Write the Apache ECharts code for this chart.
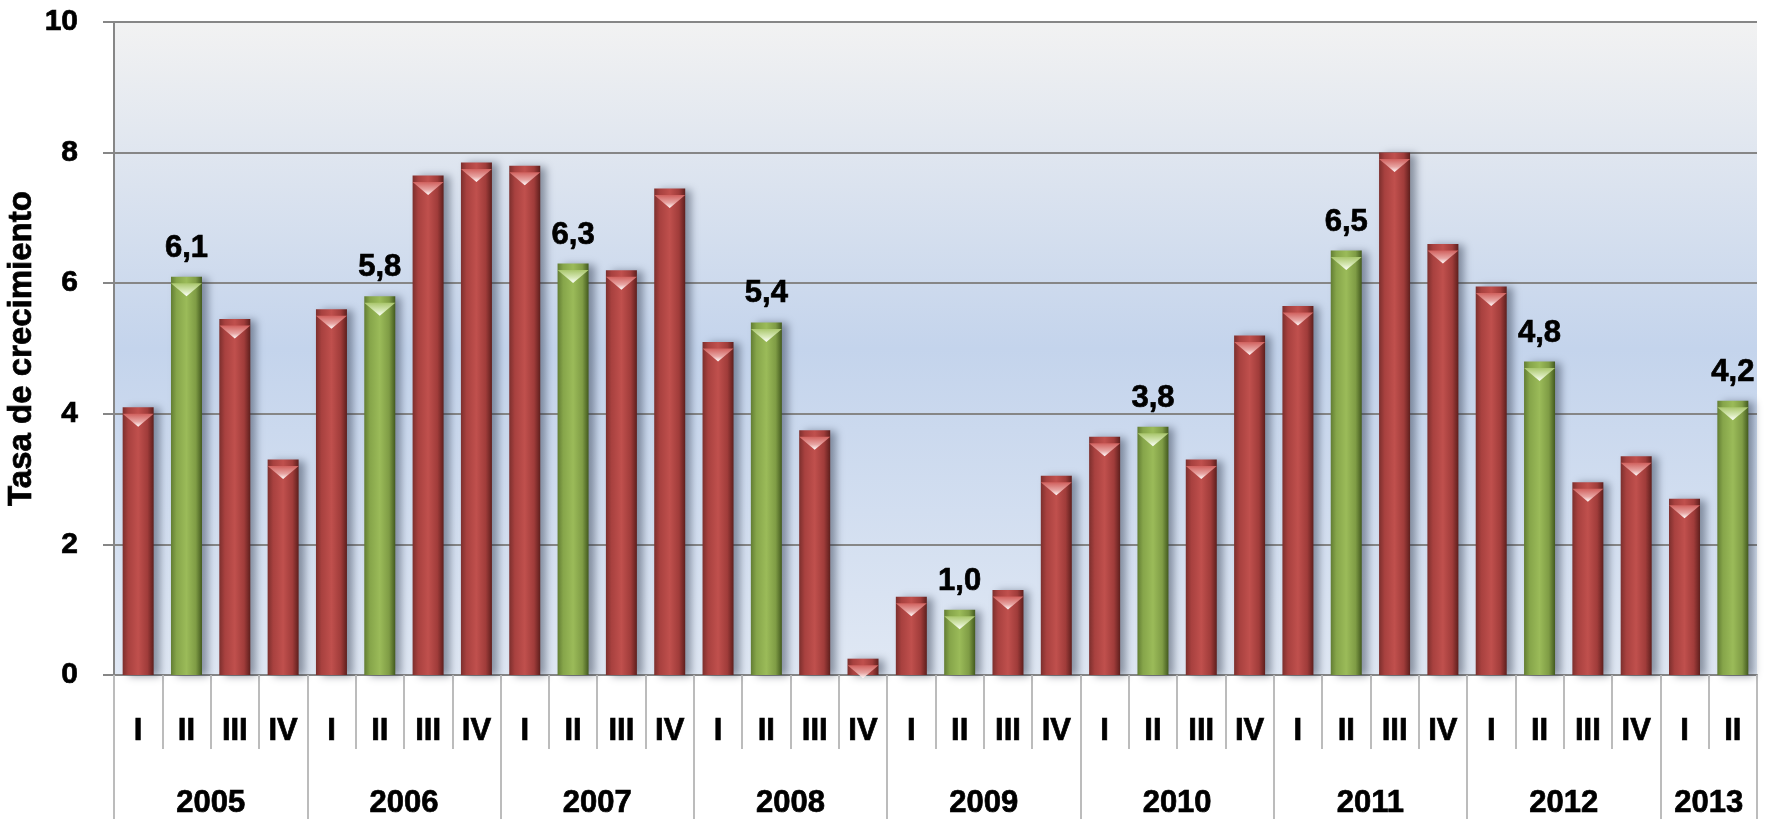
<!DOCTYPE html>
<html>
<head>
<meta charset="utf-8">
<script src="https://cdn.jsdelivr.net/npm/echarts@6/dist/echarts.min.js"></script>
<style>
html,body{margin:0;padding:0;background:#fff;}
#chart{width:1769px;height:819px;}
</style>
</head>
<body>
<div id="chart"></div>
<script>
// ---- data ----
var years = ['2005','2006','2007','2008','2009','2010','2011','2012','2013'];
var quarterNames = ['I','II','III','IV'];
var quartersPerYear = [4,4,4,4,4,4,4,4,2];
var v2005 = [4.1, 6.1, 5.45, 3.3];
var v2006 = [5.6, 5.8, 7.65, 7.85];
var v2007 = [7.8, 6.3, 6.2, 7.45];
var v2008 = [5.1, 5.4, 3.75, 0.25];
var v2009 = [1.2, 1.0, 1.3, 3.05];
var v2010 = [3.65, 3.8, 3.3, 5.2];
var v2011 = [5.65, 6.5, 8.0, 6.6];
var v2012 = [5.95, 4.8, 2.95, 3.35];
var v2013 = [2.7, 4.2];
var yTicks = [0, 2, 4, 6, 8, 10];
var yTitle = 'Tasa de crecimiento';

// ---- build ----
var yearValues = [v2005, v2006, v2007, v2008, v2009, v2010, v2011, v2012, v2013];
var quarterCats = [];
var values = [];
var isQ2 = [];
yearValues.forEach(function (arr) {
  arr.forEach(function (v, q) {
    quarterCats.push(quarterNames[q]);
    values.push(v);
    isQ2.push(q === 1);
  });
});
var nQ = quarterCats.length;
var yearAxisData = [];
var boundarySet = {};
for (var i = 0; i <= nQ; i++) yearAxisData.push('');
var start = 0;
boundarySet[0] = true;
years.forEach(function (y, k) {
  var c = quartersPerYear[k];
  yearAxisData[start + c / 2] = y;
  start += c;
  boundarySet[start] = true;
});

var FONT = 'Liberation Sans, Arial, sans-serif';
var BW = 31;
var heavy = {textBorderColor: '#000', textBorderWidth: 0.7};

function redGrad() {
  return new echarts.graphic.LinearGradient(0, 0, 1, 0, [
    {offset: 0, color: '#7c2f2d'},
    {offset: 0.18, color: '#a8413f'},
    {offset: 0.5, color: '#c0504d'},
    {offset: 0.8, color: '#a03c3a'},
    {offset: 1, color: '#5e1f1d'}
  ]);
}
function greenGrad() {
  return new echarts.graphic.LinearGradient(0, 0, 1, 0, [
    {offset: 0, color: '#627d33'},
    {offset: 0.18, color: '#86a54a'},
    {offset: 0.5, color: '#9bbb59'},
    {offset: 0.8, color: '#7f9c45'},
    {offset: 1, color: '#435a1f'}
  ]);
}
function redCap() {
  return new echarts.graphic.LinearGradient(0, 0, 0, 1, [
    {offset: 0, color: '#d0605d'},
    {offset: 0.6, color: '#e8a5a3'},
    {offset: 1, color: '#ffffff'}
  ]);
}
function greenCap() {
  return new echarts.graphic.LinearGradient(0, 0, 0, 1, [
    {offset: 0, color: '#a9c66c'},
    {offset: 0.6, color: '#d8e9b8'},
    {offset: 1, color: '#ffffff'}
  ]);
}
function fmt(v) { return v.toFixed(1).replace('.', ','); }

var barData = values.map(function (v, i) {
  var d = {
    value: v,
    itemStyle: {color: isQ2[i] ? greenGrad() : redGrad()}
  };
  if (isQ2[i]) d.label = {show: true};
  return d;
});
var capData = values.map(function (v, i) {
  return {value: v, itemStyle: {color: isQ2[i] ? greenCap() : redCap()}};
});

var chart = echarts.init(document.getElementById('chart'), null, {renderer: 'canvas'});
chart.setOption({
  animation: false,
  backgroundColor: '#ffffff',
  grid: {
    left: 114, right: 12, top: 22, bottom: 144,
    containLabel: false,
    outerBoundsMode: 'none',
    show: true,
    borderWidth: 0,
    backgroundColor: new echarts.graphic.LinearGradient(0, 0, 0, 1, [
      {offset: 0, color: '#f2f2f2'},
      {offset: 0.5, color: '#c4d4ec'},
      {offset: 1, color: '#e0e8f4'}
    ])
  },
  xAxis: [{
    type: 'category',
    data: quarterCats,
    position: 'bottom',
    axisLine: {show: true, lineStyle: {color: '#868686', width: 2}},
    axisTick: {show: true, interval: 0, length: 74, lineStyle: {color: '#bcbcbc', width: 2}},
    axisLabel: Object.assign({interval: 0, margin: 41, color: '#000', fontSize: 31, fontWeight: 'bold', fontFamily: FONT}, heavy)
  }, {
    type: 'category',
    data: yearAxisData,
    position: 'bottom',
    boundaryGap: false,
    axisLine: {show: false},
    axisTick: {
      show: true, length: 150,
      interval: function (idx) { return !!boundarySet[idx]; },
      lineStyle: {color: '#bcbcbc', width: 2}
    },
    axisLabel: Object.assign({interval: 0, margin: 113, color: '#000', fontSize: 31, fontWeight: 'bold', fontFamily: FONT}, heavy)
  }],
  yAxis: {
    type: 'value',
    min: yTicks[0], max: yTicks[yTicks.length - 1], interval: yTicks[1] - yTicks[0],
    name: yTitle,
    nameLocation: 'middle',
    nameRotate: 90,
    nameGap: 76,
    nameMoveOverlap: false,
    nameTextStyle: Object.assign({color: '#000', fontSize: 33, fontWeight: 'bold', fontFamily: FONT}, heavy),
    axisLine: {show: true, lineStyle: {color: '#868686', width: 2}},
    axisTick: {show: true, length: 11, lineStyle: {color: '#868686', width: 2}},
    axisLabel: Object.assign({margin: 36, color: '#000', fontSize: 30, fontWeight: 'bold', fontFamily: FONT}, heavy),
    splitLine: {show: true, lineStyle: {color: '#868686', width: 2}}
  },
  series: [{
    type: 'bar',
    xAxisIndex: 0,
    data: barData,
    barWidth: BW,
    barGap: '-100%',
    itemStyle: {
      shadowColor: 'rgba(30,40,60,0.45)',
      shadowBlur: 8,
      shadowOffsetX: 6,
      shadowOffsetY: 1
    },
    label: Object.assign({
      show: false,
      position: 'top',
      distance: 13,
      color: '#000',
      fontSize: 31,
      fontWeight: 'bold',
      fontFamily: FONT,
      formatter: function (p) { return fmt(p.value); }
    }, heavy)
  }, {
    type: 'pictorialBar',
    xAxisIndex: 0,
    data: capData,
    barWidth: BW,
    barGap: '-100%',
    symbol: 'path://M0,0 L10,0 L5,5 Z',
    symbolSize: [BW, 13],
    symbolPosition: 'end',
    symbolOffset: [0, '50%'],
    z: 3,
    silent: true
  }]
});
</script>
</body>
</html>
